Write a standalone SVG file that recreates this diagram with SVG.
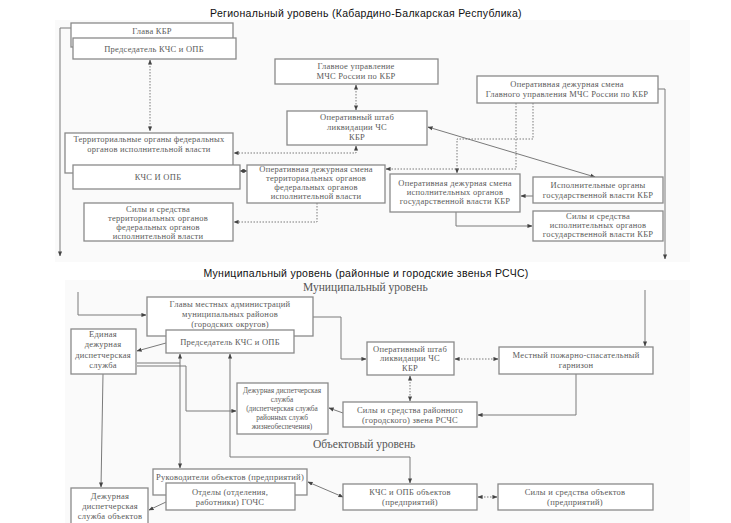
<svg xmlns="http://www.w3.org/2000/svg" width="731" height="523" viewBox="0 0 731 523">
<defs>
<marker id="a" viewBox="0 0 6 6" refX="5.5" refY="3" markerWidth="5" markerHeight="5" markerUnits="userSpaceOnUse" orient="auto-start-reverse"><path d="M0,0.5 L6,3 L0,5.5 z" fill="#444"/></marker>
</defs>
<style>
.bg{fill:#fafafa;stroke:none}
.b{fill:#fff;stroke:#8a8a8a;stroke-width:1.3}
.t{font-family:"Liberation Serif","Times New Roman",serif;font-size:8.5px;letter-spacing:0.25px;fill:#5a5a5a;text-anchor:middle}
.sm{font-size:7.3px;letter-spacing:0}
.h{font-family:"Liberation Sans",Arial,sans-serif;font-size:10.5px;letter-spacing:0.3px;fill:#111;text-anchor:middle}
.s{font-family:"Liberation Serif","Times New Roman",serif;font-size:11.5px;fill:#555}
.l{fill:none;stroke:#7a7a7a;stroke-width:1}
.d{fill:none;stroke:#7a7a7a;stroke-width:1;stroke-dasharray:1.5 1.5}
</style>
<rect x="0" y="0" width="731" height="523" fill="#fff"/>
<rect class="bg" x="55" y="20" width="635" height="242"/>
<rect class="bg" x="65" y="280" width="625" height="243"/>
<text class="h" x="366" y="17">Региональный уровень  (Кабардино-Балкарская Республика)</text>
<text class="h" x="366" y="277">Муниципальный уровень (районные и городские звенья РСЧС)</text>
<text class="s" x="303" y="291">Муниципальный уровень</text>
<text class="s" x="313" y="448">Объектовый уровень</text>

<g id="connectors">
<path class="l" d="M71,28 H60 V256" marker-end="url(#a)"/>
<path class="d" d="M150,60 V131" marker-start="url(#a)" marker-end="url(#a)"/>
<path class="d" d="M356,85 V110" marker-start="url(#a)" marker-end="url(#a)"/>
<path class="d" d="M356,146 V153 H234" marker-start="url(#a)" marker-end="url(#a)"/>
<path class="l" d="M240,171 H247" marker-start="url(#a)" marker-end="url(#a)"/>
<path class="d" d="M317,203 V222 H234" marker-end="url(#a)"/>
<path class="d" d="M533,103 V139 H457 V173" marker-end="url(#a)"/>
<path class="d" d="M516,103 V169 H386" marker-end="url(#a)"/>
<path class="l" d="M595,177 L428,127" marker-start="url(#a)" marker-end="url(#a)"/>
<path class="l" d="M533,196 H521" marker-end="url(#a)"/>
<path class="l" d="M456,212 V226 H532" marker-end="url(#a)"/>
<path class="l" d="M658,89 H665 V259" marker-end="url(#a)"/>

<path class="l" d="M78,292 V315 H146" marker-end="url(#a)"/>
<path class="l" d="M313,317 H341 V359 H366" marker-end="url(#a)"/>
<path class="d" d="M455,359 H498" marker-start="url(#a)" marker-end="url(#a)"/>
<path class="l" d="M645,290 V346" marker-end="url(#a)"/>
<path class="l" d="M576,374 V415 H478" marker-end="url(#a)"/>
<path class="d" d="M410,376 V401" marker-start="url(#a)" marker-end="url(#a)"/>
<path class="l" d="M343,413 L329,408" marker-end="url(#a)"/>
<path class="l" d="M166,343 L137,351" marker-end="url(#a)"/>
<path class="l" d="M180,354 V468" marker-start="url(#a)" marker-end="url(#a)"/>
<path class="l" d="M137,363 H180"/>
<path class="l" d="M137,366 H186 V411 H236" marker-end="url(#a)"/>
<path class="l" d="M230,354 V457 H410 V483" marker-start="url(#a)" marker-end="url(#a)"/>
<path class="l" d="M103,374 L101,487" marker-end="url(#a)"/>
<path class="l" d="M166,502 L149,510" marker-end="url(#a)"/>
<path class="l" d="M343,497 L308,482" marker-start="url(#a)" marker-end="url(#a)"/>
<path class="d" d="M478,497 H497" marker-start="url(#a)" marker-end="url(#a)"/>
</g>

<g id="glava-kbr"><rect class="b" x="71" y="23" width="162" height="24"/><text class="t" x="152" y="34">Глава КБР</text></g>
<g id="pred-kchs"><rect class="b" x="73" y="38" width="163" height="21"/><text class="t" x="154" y="52">Председатель КЧС и ОПБ</text></g>
<g id="gu-mchs"><rect class="b" x="275" y="59" width="163" height="25"/><text class="t" x="356" y="69">Главное управление</text><text class="t" x="356" y="79">МЧС России по КБР</text></g>
<g id="shtab-kbr"><rect class="b" x="287" y="111" width="140" height="34"/><text class="t" x="357" y="120">Оперативный штаб</text><text class="t" x="357" y="130">ликвидации ЧС</text><text class="t" x="357" y="140">КБР</text></g>
<g id="ods-gu"><rect class="b" x="477" y="76" width="181" height="27"/><text class="t" x="567" y="87">Оперативная дежурная смена</text><text class="t" x="567" y="97">Главного управления МЧС России по КБР</text></g>
<g id="terr-org"><rect class="b" x="65" y="133" width="168" height="40"/><text class="t" x="149" y="142">Территориальные органы федеральных</text><text class="t" x="149" y="152">органов исполнительной власти</text></g>
<g id="kchs-opb"><rect class="b" x="73" y="165" width="167" height="24"/><text class="t" x="158" y="180">КЧС И ОПБ</text></g>
<g id="ods-terr"><rect class="b" x="247" y="165" width="138" height="38"/><text class="t" x="316" y="172">Оперативная дежурная смена</text><text class="t" x="316" y="181">территориальных органов</text><text class="t" x="316" y="190">федеральных органов</text><text class="t" x="316" y="199">исполнительной власти</text></g>
<g id="ods-isp"><rect class="b" x="390" y="174" width="130" height="38"/><text class="t" x="455" y="186">Оперативная дежурная смена</text><text class="t" x="455" y="195">исполнительных органов</text><text class="t" x="455" y="204">государственной власти КБР</text></g>
<g id="isp-org"><rect class="b" x="533" y="177" width="130" height="26"/><text class="t" x="598" y="188">Исполнительные органы</text><text class="t" x="598" y="198">государственной власти КБР</text></g>
<g id="sily-terr"><rect class="b" x="84" y="203" width="149" height="38"/><text class="t" x="158" y="212">Силы и средства</text><text class="t" x="158" y="221">территориальных органов</text><text class="t" x="158" y="230">федеральных органов</text><text class="t" x="158" y="239">исполнительной власти</text></g>
<g id="sily-isp"><rect class="b" x="533" y="211" width="130" height="30"/><text class="t" x="598" y="219">Силы и средства</text><text class="t" x="598" y="228">исполнительных органов</text><text class="t" x="598" y="237">государственной власти КБР</text></g>

<g id="glavy-mest"><rect class="b" x="147" y="297" width="166" height="39"/><text class="t" x="230" y="307">Главы местных администраций</text><text class="t" x="230" y="317">муниципальных районов</text><text class="t" x="230" y="327">(городских округов)</text></g>
<g id="pred-mun"><rect class="b" x="166" y="330" width="128" height="23"/><text class="t" x="230" y="345">Председатель КЧС и ОПБ</text></g>
<g id="edds"><rect class="b" x="71" y="329" width="65" height="45"/><text class="t" x="103" y="337">Единая</text><text class="t" x="103" y="347">дежурная</text><text class="t" x="103" y="358">диспетчерская</text><text class="t" x="103" y="368">служба</text></g>
<g id="shtab-mun"><rect class="b" x="367" y="342" width="87" height="33"/><text class="t" x="410" y="352">Оперативный штаб</text><text class="t" x="410" y="361">ликвидации ЧС</text><text class="t" x="410" y="371">КБР</text></g>
<g id="garnizon"><rect class="b" x="499" y="347" width="154" height="27"/><text class="t" x="576" y="358">Местный пожарно-спасательный</text><text class="t" x="576" y="368">гарнизон</text></g>
<g id="dds"><rect class="b" x="237" y="383" width="91" height="51"/><text class="t sm" x="282" y="393">Дежурная диспетчерская</text><text class="t sm" x="282" y="402">служба</text><text class="t sm" x="282" y="411">(диспетчерская служба</text><text class="t sm" x="282" y="420">районных служб</text><text class="t sm" x="282" y="429">жизнеобеспечения)</text></g>
<g id="sily-rayon"><rect class="b" x="343" y="402" width="134" height="25"/><text class="t" x="410" y="413">Силы и средства районного</text><text class="t" x="410" y="423">(городского) звена РСЧС</text></g>
<g id="rukovod"><rect class="b" x="153" y="469" width="154" height="26"/><text class="t" x="230" y="480">Руководители объектов (предприятий)</text></g>
<g id="otdely"><rect class="b" x="166" y="483" width="129" height="27"/><text class="t" x="230" y="495">Отделы (отделения,</text><text class="t" x="230" y="505">работники) ГОЧС</text></g>
<g id="dds-obj"><rect class="b" x="71" y="488" width="77" height="42"/><text class="t" x="110" y="499">Дежурная</text><text class="t" x="110" y="509">диспетчерская</text><text class="t" x="110" y="519">служба объектов</text></g>
<g id="kchs-obj"><rect class="b" x="343" y="484" width="134" height="26"/><text class="t" x="410" y="495">КЧС и ОПБ объектов</text><text class="t" x="410" y="505">(предприятий)</text></g>
<g id="sily-obj"><rect class="b" x="498" y="484" width="155" height="26"/><text class="t" x="575" y="495">Силы и средства объектов</text><text class="t" x="575" y="505">(предприятий)</text></g>
</svg>
